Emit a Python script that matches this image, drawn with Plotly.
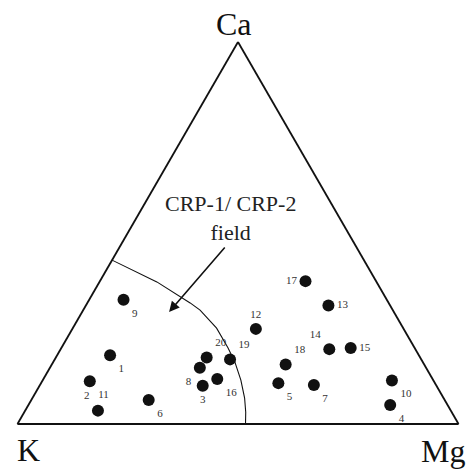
import plotly.graph_objects as go

# sample compositions (percent)
sample_ids = ['1', '2', '3', '4', '5', '6', '7', '8', '9', '10',
              '11', '12', '13', '14', '15', '16', '17', '18', '19', '20']
ca = [18.0, 3.5, 10.0, 5.0, 10.7, 6.3, 10.2, 14.7, 32.5, 11.4,
      11.2, 24.9, 31.0, 19.6, 19.9, 11.8, 37.4, 15.6, 16.9, 17.4]
k = [70.0, 80.0, 53.0, 13.0, 35.5, 67.1, 27.7, 51.3, 59.7, 9.4,
     78.0, 33.5, 14.0, 19.5, 14.5, 48.8, 16.0, 31.4, 43.3, 48.4]
mg = [12.0, 16.5, 37.0, 82.0, 53.8, 26.6, 62.1, 34.0, 7.8, 79.2,
      10.8, 41.6, 55.0, 60.9, 65.6, 39.4, 46.6, 53.0, 39.7, 34.2]

# CRP-1 / CRP-2 field boundary
field_ca = [42.9, 37.2, 31.7, 29.8, 25.1, 19.9, 16.2, 11.5, 6.8, 3.1, 0.0]
field_k = [57.1, 49.8, 45.0, 43.7, 42.3, 42.3, 42.6, 43.6, 45.1, 46.7, 48.3]
field_mg = [0.0, 13.0, 23.3, 26.5, 32.6, 37.8, 41.2, 44.9, 48.1, 50.2, 51.7]

label_pos = ['bottom right', 'top left', 'bottom center', 'bottom right', 'bottom right',
             'bottom right', 'bottom right', 'bottom left', 'bottom right', 'bottom right',
             'bottom right', 'top center', 'middle right', 'top left', 'middle right',
             'bottom right', 'middle left', 'top right', 'top right', 'top right']

serif = 'Liberation Serif, Times New Roman, serif'

fig = go.Figure()
fig.add_trace(go.Scatterternary(
    a=field_ca, b=field_k, c=field_mg,
    mode='lines', line=dict(color='#111', width=1.1),
    hoverinfo='skip', showlegend=False,
))
fig.add_trace(go.Scatterternary(
    a=ca, b=k, c=mg,
    mode='markers+text', text=sample_ids, textposition=label_pos,
    textfont=dict(family=serif, size=11, color='#333'),
    marker=dict(color='#111', size=12),
    showlegend=False,
))

axis_style = dict(showgrid=False, showticklabels=False, ticks='',
                  linecolor='#111', linewidth=1.8, title=dict(text=''))
vertex_font = dict(size=32, family=serif, color='#111')
fig.update_layout(
    width=467, height=469,
    paper_bgcolor='white', plot_bgcolor='white',
    margin=dict(l=17, r=8, t=42, b=45),
    font=dict(family=serif, color='#111'),
    ternary=dict(sum=100, bgcolor='white',
                 aaxis=axis_style, baxis=axis_style, caxis=axis_style),
    annotations=[
        dict(text='Ca', x=0.491, y=1.047, xref='paper', yref='paper',
             xanchor='center', yanchor='middle', showarrow=False, font=vertex_font),
        dict(text='K', x=0.026, y=-0.067, xref='paper', yref='paper',
             xanchor='center', yanchor='middle', showarrow=False, font=vertex_font),
        dict(text='Mg', x=0.964, y=-0.071, xref='paper', yref='paper',
             xanchor='center', yanchor='middle', showarrow=False, font=vertex_font),
        dict(text='CRP-1/ CRP-2<br>field', x=0.484, y=0.539, xref='paper', yref='paper',
             xanchor='center', yanchor='middle', showarrow=False,
             font=dict(size=22, family=serif, color='#222')),
        dict(text='', x=0.344, y=0.293, xref='paper', yref='paper',
             showarrow=True, ax=57, ay=-66, arrowhead=2, arrowsize=1.3,
             arrowwidth=1.6, arrowcolor='#111', standoff=0),
    ],
)

# drop the page's default body margin so the figure sits at the window origin
fig.write_html("out.html", config={'displayModeBar': False},
               post_script="document.body.style.margin='0';")
